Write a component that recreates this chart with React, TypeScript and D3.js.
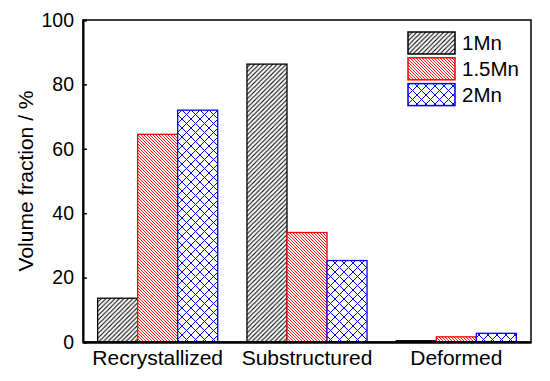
import React, { useEffect, useRef } from "react";
import * as d3 from "d3";

const categories = ["Recrystallized", "Substructured", "Deformed"];
const seriesNames = ["1Mn", "1.5Mn", "2Mn"];
const values1Mn = [13.6, 86.3, 0.4];
const values15Mn = [64.5, 34.0, 1.6];
const values2Mn = [72.0, 25.3, 2.7];
const yTicks = [0, 20, 40, 60, 80, 100];

const seriesColors = ["#000000", "#ff0000", "#0000ff"];
const patternIds = ["hatch-1mn", "hatch-15mn", "hatch-2mn"];

export default function App() {
  const svgRef = useRef<SVGSVGElement>(null);

  useEffect(() => {
    if (!svgRef.current) return;
    const svg = d3.select(svgRef.current);
    svg.selectAll("*").remove();

    const width = 550;
    const height = 381;
    const margin = { top: 20, right: 19, bottom: 39, left: 83 };
    const innerWidth = width - margin.left - margin.right;
    const innerHeight = height - margin.top - margin.bottom;
    const font = "'Liberation Sans', Arial, sans-serif";

    const series = [values1Mn, values15Mn, values2Mn];

    // Patterns
    const defs = svg.append("defs");
    // 1Mn: "/" lines
    const s1 = 4.5;
    const p1 = defs.append("pattern")
      .attr("id", patternIds[0])
      .attr("patternUnits", "userSpaceOnUse")
      .attr("width", s1)
      .attr("height", s1);
    p1.append("rect").attr("width", s1).attr("height", s1).attr("fill", "white");
    p1.append("path")
      .attr("d", `M0,${s1} L${s1},0 M${-s1 / 2},${s1 / 2} L${s1 / 2},${-s1 / 2} M${s1 / 2},${1.5 * s1} L${1.5 * s1},${s1 / 2}`)
      .attr("stroke", "#000")
      .attr("stroke-width", 1.1);

    // 1.5Mn: "\" dense lines
    const s2 = 3;
    const p2 = defs.append("pattern")
      .attr("id", patternIds[1])
      .attr("patternUnits", "userSpaceOnUse")
      .attr("width", s2)
      .attr("height", s2);
    p2.append("rect").attr("width", s2).attr("height", s2).attr("fill", "white");
    p2.append("path")
      .attr("d", `M0,0 L${s2},${s2} M${-s2 / 2},${s2 / 2} L${s2 / 2},${1.5 * s2} M${s2 / 2},${-s2 / 2} L${1.5 * s2},${s2 / 2}`)
      .attr("stroke", "#ff0000")
      .attr("stroke-width", 0.9);

    // 2Mn: crosshatch
    const s3 = 9;
    const p3 = defs.append("pattern")
      .attr("id", patternIds[2])
      .attr("patternUnits", "userSpaceOnUse")
      .attr("width", s3)
      .attr("height", s3);
    p3.append("rect").attr("width", s3).attr("height", s3).attr("fill", "white");
    p3.append("path")
      .attr("d", `M0,0 L${s3},${s3} M0,${s3} L${s3},0 M${-s3 / 2},${s3 / 2} L${s3 / 2},${1.5 * s3} M${s3 / 2},${-s3 / 2} L${1.5 * s3},${s3 / 2} M${-s3 / 2},${s3 / 2} L${s3 / 2},${-s3 / 2} M${s3 / 2},${1.5 * s3} L${1.5 * s3},${s3 / 2}`)
      .attr("stroke", "#0000ff")
      .attr("stroke-width", 1);

    const g = svg.append("g").attr("transform", `translate(${margin.left},${margin.top})`);

    // Scales
    const x0 = d3.scaleBand<string>()
      .domain(categories)
      .range([0, innerWidth])
      .paddingInner(0.196)
      .paddingOuter(0.098);

    const x1 = d3.scaleBand<string>()
      .domain(seriesNames)
      .range([0, x0.bandwidth()])
      .padding(0);

    const y = d3.scaleLinear().domain([0, 100]).range([innerHeight, 0]);

    // Bars
    seriesNames.forEach((name, si) => {
      g.append("g")
        .selectAll("rect")
        .data(categories)
        .join("rect")
        .attr("x", (c) => (x0(c) || 0) + (x1(name) || 0))
        .attr("y", (c, i) => y(series[si][i]))
        .attr("width", x1.bandwidth())
        .attr("height", (c, i) => innerHeight - y(series[si][i]))
        .attr("fill", `url(#${patternIds[si]})`)
        .attr("stroke", seriesColors[si])
        .attr("stroke-width", 1.3);
    });

    // Frame
    g.append("rect")
      .attr("x", 0)
      .attr("y", 0)
      .attr("width", innerWidth)
      .attr("height", innerHeight)
      .attr("fill", "none")
      .attr("stroke", "#000")
      .attr("stroke-width", 1.5);

    // Y axis (inward ticks)
    const yAxis = g.append("g")
      .call(d3.axisLeft(y).tickValues(yTicks).tickSize(-4).tickPadding(9).tickFormat(d3.format("d")));
    yAxis.select(".domain").attr("stroke", "#000").attr("stroke-width", 2);
    yAxis.selectAll("line").attr("stroke", "#000").attr("stroke-width", 1.5);
    yAxis.selectAll("text")
      .style("font-family", font)
      .style("font-size", "19.5px")
      .attr("fill", "#000");

    // X axis: labels only
    const xAxis = g.append("g")
      .attr("transform", `translate(0,${innerHeight})`)
      .call(d3.axisBottom(x0).tickSize(0).tickPadding(8));
    xAxis.select(".domain").attr("stroke", "#000").attr("stroke-width", 2.5);
    xAxis.selectAll("text")
      .style("font-family", font)
      .style("font-size", "21px")
      .attr("fill", "#000");

    // Y label
    svg.append("text")
      .attr("transform", `translate(33,${margin.top + innerHeight / 2}) rotate(-90)`)
      .attr("text-anchor", "middle")
      .style("font-family", font)
      .style("font-size", "21px")
      .attr("fill", "#000")
      .text("Volume fraction / %");

    // Legend
    const legend = svg.append("g").attr("transform", "translate(408,32)");
    seriesNames.forEach((name, i) => {
      legend.append("rect")
        .attr("x", 0)
        .attr("y", i * 25.8)
        .attr("width", 47)
        .attr("height", 22)
        .attr("fill", `url(#${patternIds[i]})`)
        .attr("stroke", seriesColors[i])
        .attr("stroke-width", 1.5);
      legend.append("text")
        .attr("x", 54)
        .attr("y", i * 25.8 + 11)
        .attr("dy", "0.36em")
        .style("font-family", font)
        .style("font-size", "20.5px")
        .attr("fill", "#000")
        .text(name);
    });
  }, []);

  return (
    <svg
      ref={svgRef}
      width={550}
      height={381}
      style={{ position: "absolute", left: 0, top: 0, background: "white" }}
    />
  );
}
